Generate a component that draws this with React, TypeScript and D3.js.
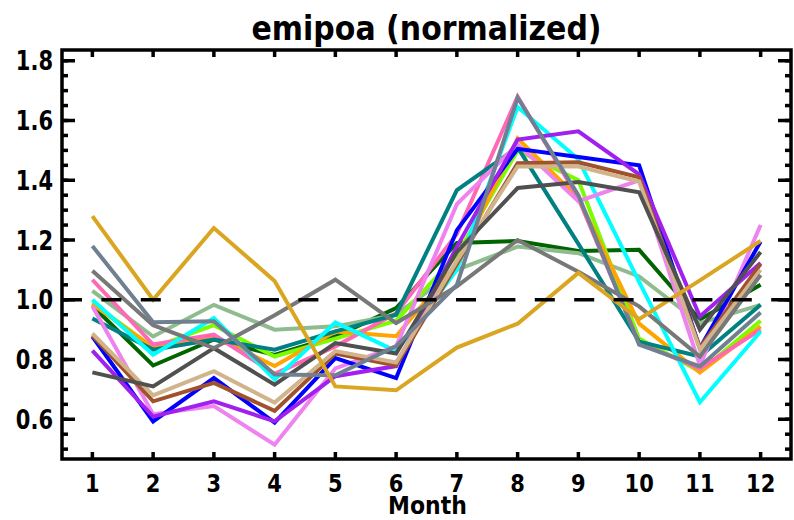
import React from "react";
import * as d3 from "d3";

const months = [1, 2, 3, 4, 5, 6, 7, 8, 9, 10, 11, 12];
const yTickValues = [0.6, 0.8, 1.0, 1.2, 1.4, 1.6, 1.8];
const yTickLabels = ["0.6", "0.8", "1.0", "1.2", "1.4", "1.6", "1.8"];
const titleText = "emipoa (normalized)";
const xAxisTitle = "Month";

const darkgreenVals = [0.98, 0.78, 0.867, 0.815, 0.877, 0.972, 1.19, 1.197, 1.163, 1.167, 0.934, 1.05];
const seagreenVals = [1.03, 0.877, 0.983, 0.9, 0.911, 0.95, 1.1, 1.178, 1.156, 1.078, 0.922, 0.983];
const lawngreenVals = [0.99, 0.84, 0.915, 0.81, 0.87, 0.93, 1.15, 1.5, 1.4, 0.87, 0.76, 0.93];
const orangeVals = [0.985, 0.84, 0.878, 0.778, 0.894, 0.878, 1.12, 1.54, 1.34, 0.92, 0.757, 0.911];
const hotpinkVals = [1.067, 0.85, 0.883, 0.752, 0.844, 0.955, 1.22, 1.68, 1.34, 0.855, 0.77, 0.9];
const tealVals = [0.937, 0.833, 0.867, 0.833, 0.894, 0.95, 1.367, 1.51, 1.187, 0.86, 0.81, 0.983];
const cyanVals = [1.0, 0.816, 0.939, 0.733, 0.924, 0.828, 1.1, 1.645, 1.47, 1.06, 0.657, 0.894];
const violetVals = [0.978, 0.617, 0.644, 0.515, 0.77, 0.844, 1.32, 1.52, 1.33, 1.4, 0.78, 1.25];
const blueVals = [0.877, 0.593, 0.738, 0.589, 0.805, 0.738, 1.233, 1.505, 1.478, 1.45, 0.838, 1.195];
const purpleVals = [0.83, 0.609, 0.66, 0.593, 0.744, 0.778, 1.178, 1.536, 1.564, 1.42, 0.944, 1.123];
const siennaVals = [0.88, 0.66, 0.722, 0.628, 0.82, 0.78, 1.12, 1.457, 1.46, 1.41, 0.84, 1.12];
const tanVals = [0.887, 0.68, 0.761, 0.656, 0.828, 0.79, 1.13, 1.446, 1.446, 1.396, 0.833, 1.1];
const dimgrayVals = [0.757, 0.71, 0.838, 0.716, 0.855, 0.82, 1.16, 1.374, 1.394, 1.36, 0.9, 1.16];
const grayVals = [1.097, 0.915, 0.838, 0.948, 1.067, 0.922, 1.045, 1.2, 1.094, 0.978, 0.81, 1.083];
const slategrayVals = [1.18, 0.925, 0.928, 0.75, 0.747, 0.845, 1.05, 1.676, 1.35, 0.85, 0.777, 0.957];
const goldenrodVals = [1.28, 1.0, 1.24, 1.063, 0.71, 0.697, 0.84, 0.92, 1.09, 0.935, 1.065, 1.197];

const seriesList = [
  { color: "#006400", values: darkgreenVals },
  { color: "#8fbc8f", values: seagreenVals },
  { color: "#7cfc00", values: lawngreenVals },
  { color: "#ffa500", values: orangeVals },
  { color: "#ff69b4", values: hotpinkVals },
  { color: "#008080", values: tealVals },
  { color: "#00ffff", values: cyanVals },
  { color: "#ee82ee", values: violetVals },
  { color: "#0000ff", values: blueVals },
  { color: "#a020f0", values: purpleVals },
  { color: "#a0522d", values: siennaVals },
  { color: "#d2b48c", values: tanVals },
  { color: "#505050", values: dimgrayVals },
  { color: "#787878", values: grayVals },
  { color: "#708090", values: slategrayVals },
  { color: "#daa520", values: goldenrodVals },
];

const W = 794;
const H = 520;
const L = 62;
const R = 791;
const T = 50;
const B = 459;
const FONT = "'DejaVu Sans', sans-serif";

function Label(props: {
  x: number;
  y: number;
  size: number;
  sy: number;
  anchor: string;
  children: React.ReactNode;
}) {
  return (
    <text
      transform={`translate(${props.x},${props.y}) scale(1,${props.sy})`}
      textAnchor={props.anchor}
      fontFamily={FONT}
      fontWeight="bold"
      fontSize={props.size}
      fill="#000"
    >
      {props.children}
    </text>
  );
}

export default function App() {
  const x = d3.scaleLinear().domain([0.5, 12.5]).range([L, R]);
  const y = d3.scaleLinear().domain([0.467, 1.836]).range([B, T]);
  const line = d3
    .line<number>()
    .x((_, i) => x(months[i]))
    .y((v) => y(v));

  const minorTicks = d3.range(0.5, 1.84, 0.05).map((v) => Math.round(v * 100) / 100);

  return (
    <svg
      width={W}
      height={H}
      style={{ position: "absolute", left: 0, top: 0, background: "#fff" }}
    >
      <rect x={0} y={0} width={W} height={H} fill="#fff" />
      <defs>
        <clipPath id="plotclip">
          <rect x={L} y={T} width={R - L} height={B - T} />
        </clipPath>
      </defs>
      <g clipPath="url(#plotclip)">
        {seriesList.map((s, i) => (
          <path
            key={i}
            d={line(s.values) || ""}
            fill="none"
            stroke={s.color}
            strokeWidth={4}
            strokeLinejoin="miter"
          />
        ))}
      </g>
      <line
        x1={L}
        x2={R}
        y1={y(1.0)}
        y2={y(1.0)}
        stroke="#000"
        strokeWidth={3.5}
        strokeDasharray="20 19.4"
      />
      <rect x={L} y={T} width={R - L} height={B - T} fill="none" stroke="#000" strokeWidth={3.5} />
      {minorTicks.map((v, i) => (
        <g key={"m" + i}>
          <line x1={L} x2={L + 6} y1={y(v)} y2={y(v)} stroke="#000" strokeWidth={3.5} />
          <line x1={R} x2={R - 6} y1={y(v)} y2={y(v)} stroke="#000" strokeWidth={3.5} />
        </g>
      ))}
      {yTickValues.map((v, i) => (
        <g key={"y" + i}>
          <line x1={L} x2={L + 13} y1={y(v)} y2={y(v)} stroke="#000" strokeWidth={3.5} />
          <line x1={R} x2={R - 13} y1={y(v)} y2={y(v)} stroke="#000" strokeWidth={3.5} />
          <Label x={L - 9} y={y(v) + 9.5} size={21} sy={1.25} anchor="end">
            {yTickLabels[i]}
          </Label>
        </g>
      ))}
      {months.map((m) => (
        <g key={"x" + m}>
          <line x1={x(m)} x2={x(m)} y1={B} y2={B - 7} stroke="#000" strokeWidth={3.5} />
          <line x1={x(m)} x2={x(m)} y1={T} y2={T + 7} stroke="#000" strokeWidth={3.5} />
          <Label x={x(m)} y={492} size={21} sy={1.22} anchor="middle">
            {String(m)}
          </Label>
        </g>
      ))}
      <Label x={(L + R) / 2 + 1} y={514} size={22} sy={1.12} anchor="middle">
        {xAxisTitle}
      </Label>
      <Label x={(L + R) / 2} y={40} size={30} sy={1.12} anchor="middle">
        {titleText}
      </Label>
    </svg>
  );
}
